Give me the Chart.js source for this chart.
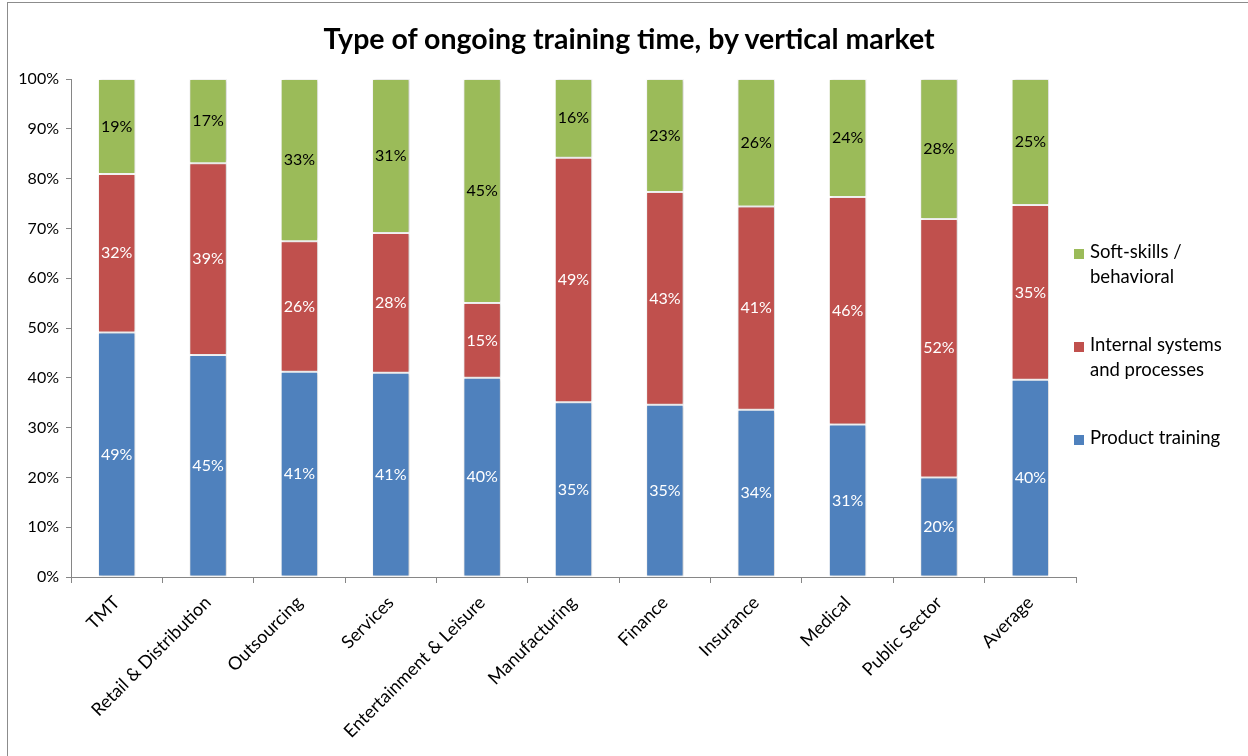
<!DOCTYPE html>
<html>
<head>
<meta charset="utf-8">
<script src="https://cdn.jsdelivr.net/npm/chart.js@4.4.1/dist/chart.umd.min.js"></script>
<style>
  body { margin: 0; background: #fff; }
  #wrap { position: relative; width: 1248px; height: 756px; overflow: hidden; font-family: Lato, sans-serif; }
  #frame { position: absolute; left: 7px; top: 2px; width: 1260px; height: 780px; border: 1px solid #8c8c8c; }
  #chart { position: absolute; left: 0; top: 0; }
  #title { position: absolute; left: 0; top: 21px; width: 1258px; text-align: center; font-weight: bold; font-size: 28.5px; line-height: 34px; color: #000; }
  #legend { position: absolute; left: 1074px; top: 239px; }
  .item { position: relative; padding-left: 16px; width: 145px; font-size: 18.5px; line-height: 25px; color: #000; margin-bottom: 43px; }
  .box { position: absolute; left: 0; top: 10px; width: 10px; height: 10px; }
</style>
</head>
<body>
<div id="wrap">
  <div id="frame"></div>
  <canvas id="chart" width="1248" height="756"></canvas>
  <div id="title">Type of ongoing training time, by vertical market</div>
  <div id="legend"></div>
</div>
<script>
// categories and series (percent of training time)
const markets = ['TMT', 'Retail & Distribution', 'Outsourcing', 'Services', 'Entertainment & Leisure',
  'Manufacturing', 'Finance', 'Insurance', 'Medical', 'Public Sector', 'Average'];

const productTraining = [49.1, 44.6, 41.2, 41.0, 40.0, 35.1, 34.6, 33.6, 30.6, 20.0, 39.6];
const internalSystems = [31.8, 38.5, 26.2, 28.1, 15.0, 49.1, 42.7, 40.8, 45.7, 51.9, 35.1];
const softSkills      = [19.1, 16.9, 32.6, 30.9, 45.0, 15.8, 22.7, 25.6, 23.7, 28.1, 25.3];

const seriesNames = ['Product training', 'Internal systems and processes', 'Soft-skills / behavioral'];
const seriesColors = ['#4F81BD', '#C0504D', '#9BBB59'];
const labelColors = ['#ffffff', '#ffffff', '#000000'];

const FONT = 'Lato, sans-serif';

// soft grey shadow behind the bars, like the original
const barShadow = {
  id: 'barShadow',
  beforeDatasetsDraw(chart) {
    const ctx = chart.ctx;
    ctx.save();
    ctx.shadowColor = 'rgba(0,0,0,0.22)';
    ctx.shadowBlur = 3;
    ctx.shadowOffsetX = 1;
    ctx.shadowOffsetY = 0;
  },
  afterDatasetsDraw(chart) {
    chart.ctx.restore();
  }
};

// value labels in the middle of every segment
const segmentLabels = {
  id: 'segmentLabels',
  afterDatasetsDraw(chart) {
    const ctx = chart.ctx;
    ctx.save();
    ctx.font = '16px ' + FONT;
    ctx.textAlign = 'center';
    ctx.textBaseline = 'middle';
    chart.data.datasets.forEach((ds, i) => {
      const meta = chart.getDatasetMeta(i);
      ctx.fillStyle = labelColors[i];
      meta.data.forEach((bar, j) => {
        const p = bar.getProps(['x', 'y', 'base'], true);
        ctx.fillText(Math.round(ds.data[j]) + '%', p.x, (p.y + p.base) / 2);
      });
    });
    ctx.restore();
  }
};

const datasets = [productTraining, internalSystems, softSkills].map((vals, i) => ({
  label: seriesNames[i],
  data: vals,
  backgroundColor: seriesColors[i],
  borderColor: '#ffffff',
  borderWidth: 1,
  borderSkipped: false,
  barPercentage: 0.41,
  categoryPercentage: 1.0
}));

new Chart(document.getElementById('chart'), {
  type: 'bar',
  data: { labels: markets, datasets: datasets },
  options: {
    responsive: false,
    animation: false,
    layout: { padding: { left: 0, right: 172, top: 79, bottom: 0 } },
    plugins: {
      legend: { display: false },
      tooltip: { enabled: false },
      title: { display: false }
    },
    scales: {
      x: {
        stacked: true,
        grid: { display: true, drawOnChartArea: false, drawTicks: true, tickLength: 6, color: '#868686', offset: true },
        border: { display: true, color: '#868686' },
        ticks: { color: '#000', font: { family: FONT, size: 18 }, minRotation: 45, maxRotation: 45, padding: 9, autoSkip: false },
        afterFit(scale) { scale.height = 179; }
      },
      y: {
        stacked: true,
        min: 0,
        max: 100,
        grid: { display: true, drawOnChartArea: false, drawTicks: true, tickLength: 5, color: '#868686' },
        border: { display: true, color: '#868686' },
        ticks: { stepSize: 10, color: '#000', font: { family: FONT, size: 16 }, padding: 7, callback: v => v + '%' },
        afterFit(scale) { scale.width = 71; }
      }
    }
  },
  plugins: [barShadow, segmentLabels]
});

// legend on the right, soft-skills on top like the original
const legend = document.getElementById('legend');
[2, 1, 0].forEach(i => {
  const item = document.createElement('div');
  item.className = 'item';
  item.innerHTML = '<span class="box" style="background:' + seriesColors[i] + '"></span>' + seriesNames[i];
  legend.appendChild(item);
});
</script>
</body>
</html>
